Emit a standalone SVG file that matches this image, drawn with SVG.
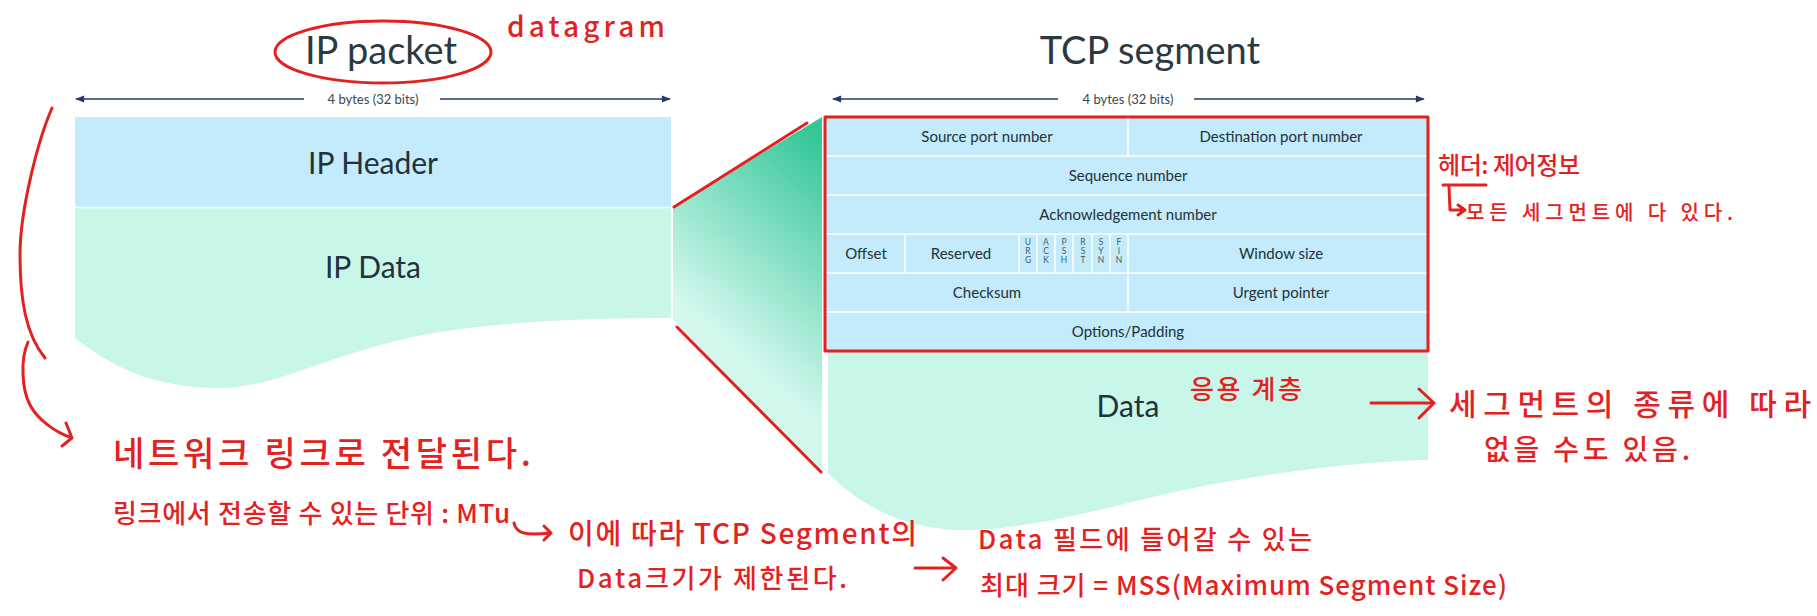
<svg xmlns="http://www.w3.org/2000/svg" width="1817" height="616" viewBox="0 0 1817 616">
<defs>
<style>
.lato{font-family:Lato,"Open Sans","Liberation Sans",sans-serif;fill:#22313a}
.title{font-size:38px;text-anchor:middle;fill:#2b3a42}
.big{font-size:30px;text-anchor:middle}
.cell{font-size:15px;text-anchor:middle}
.flag{font-size:8.5px;text-anchor:middle;fill:#4a5a63}
.dim{font-size:13px;text-anchor:middle;fill:#3a4750}
.hand{font-family:"Noto Sans CJK KR","Noto Sans",sans-serif;font-weight:500;fill:#e3221f}
.ink{fill:none;stroke:#e3221f;stroke-width:3;stroke-linecap:round;stroke-linejoin:round}
.dimline{stroke:#233a6b;stroke-width:1.5}
.grid{stroke:#ffffff;stroke-width:1.5}
.hdr{fill:#c3ebfb}
.dat{fill:#c8f7ea}
</style>
<marker id="ah" viewBox="0 0 10 10" refX="9" refY="5" markerUnits="userSpaceOnUse" markerWidth="10" markerHeight="9" orient="auto-start-reverse"><path d="M0,1 L10,5 L0,9 z" fill="#233a6b"/></marker>
<linearGradient id="funnelGrad" gradientUnits="userSpaceOnUse" x1="824" y1="140" x2="680" y2="300"><stop offset="0" stop-color="#33c697"/><stop offset="1" stop-color="#d3f8ee"/></linearGradient>
</defs>
<rect x="0" y="0" width="1817" height="616" fill="#ffffff"/>

<g id="ip-packet-title">
<text class="lato title" x="381" y="64">IP packet</text>
</g>
<g id="ip-dimension">
<line class="dimline" x1="76" y1="99" x2="670" y2="99" marker-start="url(#ah)" marker-end="url(#ah)"/>
<rect x="304" y="90" width="136" height="18" fill="#ffffff"/>
<text class="lato dim" x="373" y="104">4 bytes (32 bits)</text>
</g>
<g id="ip-header">
<rect class="hdr" x="75" y="117" width="596" height="90"/>
<text class="lato big" x="373" y="174">IP Header</text>
</g>
<g id="ip-data">
<path class="dat" d="M75,208 H671 V318 C600,318 520,320 440,332 C340,348 280,388 220,388 C150,388 110,365 75,338 Z"/>
<line class="grid" x1="75" y1="207.5" x2="671" y2="207.5"/>
<text class="lato big" x="373" y="278">IP Data</text>
</g>

<g id="funnel">
<polygon points="673,207 822,117 822,473 673,320" fill="url(#funnelGrad)"/>
</g>

<g id="tcp-segment-title">
<text class="lato title" x="1150" y="64">TCP segment</text>
</g>
<g id="tcp-dimension">
<line class="dimline" x1="833" y1="99" x2="1424" y2="99" marker-start="url(#ah)" marker-end="url(#ah)"/>
<rect x="1058" y="90" width="136" height="18" fill="#ffffff"/>
<text class="lato dim" x="1128" y="104">4 bytes (32 bits)</text>
</g>
<g id="tcp-header">
<rect class="hdr" x="826" y="117" width="602" height="234"/>
<line class="grid" x1="826" y1="156" x2="1428" y2="156"/>
<line class="grid" x1="826" y1="195" x2="1428" y2="195"/>
<line class="grid" x1="826" y1="234" x2="1428" y2="234"/>
<line class="grid" x1="826" y1="273" x2="1428" y2="273"/>
<line class="grid" x1="826" y1="312" x2="1428" y2="312"/>
<line class="grid" x1="1128" y1="117" x2="1128" y2="156"/>
<line class="grid" x1="1128" y1="234" x2="1128" y2="312"/>
<line class="grid" x1="905" y1="234" x2="905" y2="273"/>
<line class="grid" x1="1019" y1="234" x2="1019" y2="273"/>
<line class="grid" x1="1037" y1="234" x2="1037" y2="273"/>
<line class="grid" x1="1055" y1="234" x2="1055" y2="273"/>
<line class="grid" x1="1073" y1="234" x2="1073" y2="273"/>
<line class="grid" x1="1092" y1="234" x2="1092" y2="273"/>
<line class="grid" x1="1110" y1="234" x2="1110" y2="273"/>
<text class="lato cell" x="987" y="142">Source port number</text>
<text class="lato cell" x="1281" y="142">Destination port number</text>
<text class="lato cell" x="1128" y="181">Sequence number</text>
<text class="lato cell" x="1128" y="220">Acknowledgement number</text>
<text class="lato cell" x="866" y="259">Offset</text>
<text class="lato cell" x="961" y="259">Reserved</text>
<text class="lato cell" x="1281" y="259">Window size</text>
<text class="lato cell" x="987" y="298">Checksum</text>
<text class="lato cell" x="1281" y="298">Urgent pointer</text>
<text class="lato cell" x="1128" y="337">Options/Padding</text>
<g class="lato flag">
<text x="1028" y="245">U</text><text x="1028" y="254">R</text><text x="1028" y="263">G</text>
<text x="1046" y="245">A</text><text x="1046" y="254">C</text><text x="1046" y="263">K</text>
<text x="1064" y="245">P</text><text x="1064" y="254">S</text><text x="1064" y="263">H</text>
<text x="1083" y="245">R</text><text x="1083" y="254">S</text><text x="1083" y="263">T</text>
<text x="1101" y="245">S</text><text x="1101" y="254">Y</text><text x="1101" y="263">N</text>
<text x="1119" y="245">F</text><text x="1119" y="254">I</text><text x="1119" y="263">N</text>
</g>
</g>
<g id="tcp-data">
<path class="dat" d="M828,352 H1428 V460 C1340,462 1230,478 1140,500 C1060,520 1000,532 955,530 C900,527 860,505 828,473 Z"/>
<text class="lato big" x="1128" y="417">Data</text>
</g>

<g id="connectors">
<ellipse class="ink" cx="383" cy="52" rx="108" ry="31"/>
<rect class="ink" x="825" y="117" width="603" height="234"/>
<path class="ink" d="M674,207 L807,123"/>
<path class="ink" d="M677,327 L821,472"/>
<path class="ink" d="M52,108 C38,140 20,210 20,255 C20,300 26,335 45,358"/>
<path class="ink" d="M28,342 C20,360 22,390 30,405 C38,420 55,432 72,438 M66,423 L72,438 L62,446"/>
<path class="ink" d="M1443,185 H1486 M1449,187 L1450,210 L1464,210 M1458,205 L1465,210 L1458,215"/>
<path class="ink" d="M1371,403 H1433 M1419,389 L1434,403 L1419,418"/>
<path class="ink" d="M514,523 C516,533 525,536 550,533 M544,526 L551,533 L544,540"/>
<path class="ink" d="M915,568 H955 M943,558 L956,568 L943,580"/>
</g>

<g id="note-datagram"><text class="hand" x="507" y="37" font-size="28" textLength="158">datagram</text></g>
<g id="note-header"><text class="hand" x="1438" y="174" font-size="24" textLength="142">헤더: 제어정보</text></g>
<g id="note-all-segments"><text class="hand" x="1466" y="220" font-size="20" textLength="267">모든 세그먼트에 다 있다.</text></g>
<g id="note-app-layer"><text class="hand" x="1190" y="399" font-size="26" textLength="112">응용 계층</text></g>
<g id="note-segment-kind"><text class="hand" x="1449" y="415" font-size="30" textLength="362">세그먼트의 종류에 따라</text>
<text class="hand" x="1484" y="460" font-size="28" textLength="206">없을 수도 있음.</text></g>
<g id="note-network-link"><text class="hand" x="113" y="466" font-size="34" textLength="418">네트워크 링크로 전달된다.</text></g>
<g id="note-mtu"><text class="hand" x="113" y="523" font-size="26" textLength="397">링크에서 전송할 수 있는 단위 : MTu</text></g>
<g id="note-tcp-limit"><text class="hand" x="568" y="544" font-size="28" textLength="349">이에 따라 TCP Segment의</text>
<text class="hand" x="577" y="588" font-size="26" textLength="270">Data크기가 제한된다.</text></g>
<g id="note-mss"><text class="hand" x="978" y="549" font-size="26" textLength="334">Data 필드에 들어갈 수 있는</text>
<text class="hand" x="980" y="595" font-size="26" textLength="527">최대 크기 = MSS(Maximum Segment Size)</text></g>
</svg>
